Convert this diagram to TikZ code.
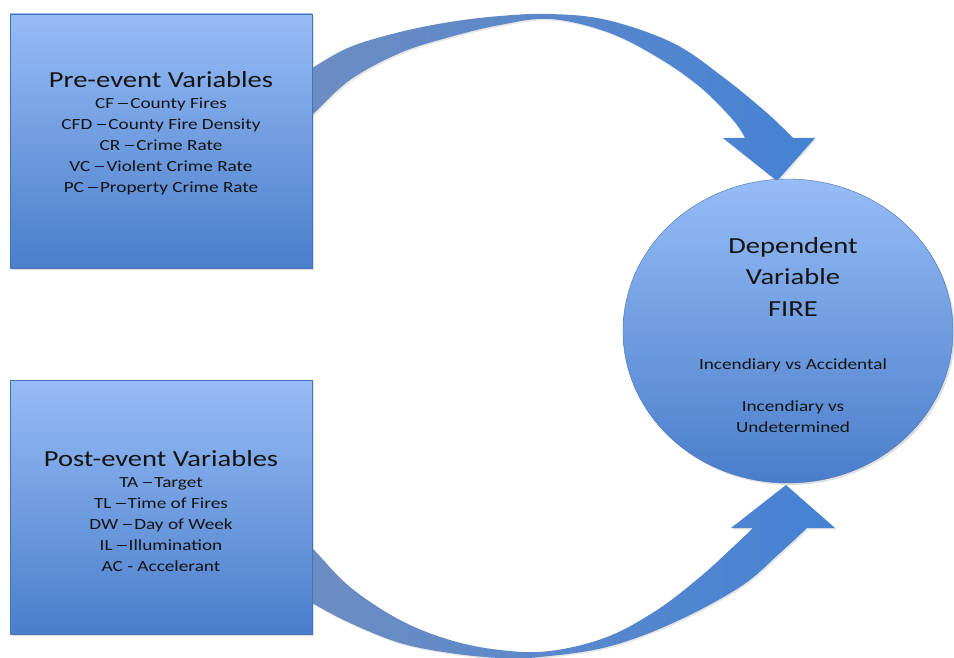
\documentclass[tikz,border=0pt]{standalone}
\usepackage{fontspec}
\setmainfont{Carlito}[FakeStretch=1.24]
\usepackage{tikz}
\usetikzlibrary{shapes.geometric,shadows}

\definecolor{boxtop}{HTML}{96BCF6}
\definecolor{boxbottom}{HTML}{4A7ECB}
\definecolor{boxline}{HTML}{4672B6}
\definecolor{bandleft}{HTML}{6E8DC2}
\definecolor{bandright}{HTML}{4582D4}
\definecolor{inktext}{HTML}{141414}

\newcommand{\vardash}{\hspace{0.28em}\rule[0.24em]{0.62em}{0.09em}\kern0.14em}

\begin{document}
\begin{tikzpicture}[x=1pt, y=-1pt,
        varbox/.style={rectangle, draw=boxline, top color=boxtop, bottom color=boxbottom, minimum width=302pt, minimum height=254pt, drop shadow={opacity=0.25, shadow xshift=2pt, shadow yshift=-2pt}},
        depnode/.style={ellipse, draw=boxline, top color=boxtop, bottom color=boxbottom, minimum width=330pt, minimum height=304pt, drop shadow={opacity=0.25, shadow xshift=2pt, shadow yshift=-2pt}},
        bandarrow/.style={left color=bandleft, right color=bandright, drop shadow={opacity=0.2, shadow xshift=1.5pt, shadow yshift=-1.5pt}},
        bigtext/.style={align=center, inner sep=0pt, text=inktext, font=\fontsize{23}{31.5}\selectfont},
        smalltext/.style={align=center, inner sep=0pt, text=inktext, font=\fontsize{15.5}{21}\selectfont}
    ]

    % fixed frame, same size as the reference
    \useasboundingbox (0,0) rectangle (954,658);

    % Curved arrow from the pre-event box down onto the circle
    \path[bandarrow] plot[smooth, tension=0.6] coordinates {(295,78) (312,68) (350,47) (400,32) (450,22) (500,16) (550,14) (607,20) (673,43) (723,77) (767,113) (793,138)}
        -- (815,138) -- (777,181) -- (723,138) --
        plot[smooth, tension=0.6] coordinates {(745,138) (733,120) (700,87) (657,57) (607,32) (550,19) (500,25) (450,37) (400,53) (350,80) (312,115) (295,128)}
        -- cycle;

    % Curved arrow from the post-event box up onto the circle
    \path[bandarrow] plot[smooth, tension=0.6] coordinates {(295,535) (312,548) (350,587) (400,620) (450,640) (500,650) (550,651) (607,637) (657,610) (700,577) (733,547) (753,528)}
        -- (731,528) -- (786,485) -- (835,528) --
        plot[smooth, tension=0.6] coordinates {(807,528) (780,553) (740,587) (673,623) (607,647) (540,657) (500,658) (450,653) (400,643) (350,623) (312,603) (295,592)}
        -- cycle;

    % Variable boxes
    \node[varbox] (preBox) at (161,141) {};
    \node[varbox] (postBox) at (161,507) {};

    % Dependent variable
    \node[depnode] (depVar) at (788,331) {};

    % Texts
    \node[smalltext, anchor=north] (preText) at (161,71) {{\fontsize{23}{21}\selectfont Pre-event Variables}\\CF\vardash County Fires\\CFD\vardash County Fire Density\\CR\vardash Crime Rate\\VC\vardash Violent Crime Rate\\PC\vardash Property Crime Rate};
    \node[smalltext, anchor=north] (postText) at (161,450) {{\fontsize{23}{21}\selectfont Post-event Variables}\\TA\vardash Target\\TL\vardash Time of Fires\\DW\vardash Day of Week\\IL\vardash Illumination\\AC - Accelerant};
    \node[bigtext, anchor=north] (depTitle) at (793,237) {Dependent\\Variable\\FIRE};
    \node[smalltext, anchor=north] (depNote) at (793,359) {Incendiary vs Accidental\\[21pt]Incendiary vs\\Undetermined};

\end{tikzpicture}
\end{document}
